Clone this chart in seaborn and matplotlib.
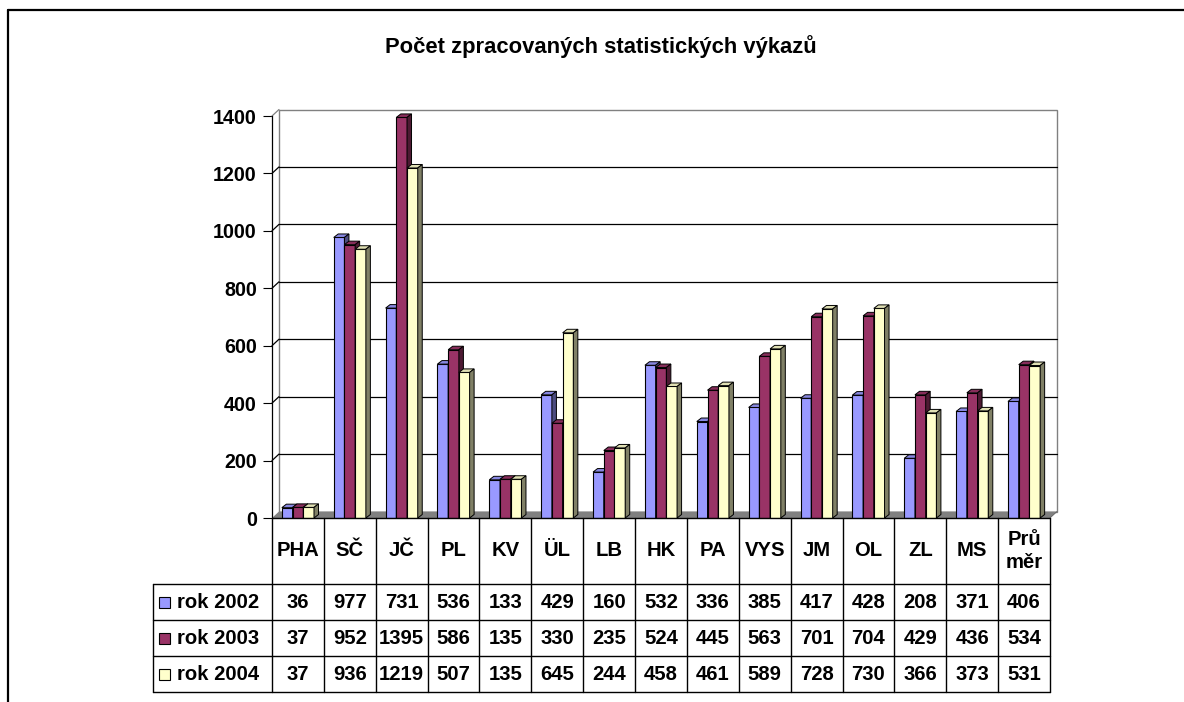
import numpy as np
import pandas as pd
import matplotlib
matplotlib.use("Agg")
import matplotlib.pyplot as plt
import seaborn as sns
from matplotlib.patches import Polygon, Rectangle
from matplotlib.lines import Line2D
from matplotlib.transforms import IdentityTransform
import matplotlib.colors as mcolors

# ---------------- data ----------------
categories = ["PHA", "SČ", "JČ", "PL", "KV", "ÜL", "LB", "HK", "PA", "VYS",
              "JM", "OL", "ZL", "MS", "Průměr"]
table_headers = ["PHA", "SČ", "JČ", "PL", "KV", "ÜL", "LB", "HK", "PA", "VYS",
                 "JM", "OL", "ZL", "MS", "Prů\nměr"]
series_names = ["rok 2002", "rok 2003", "rok 2004"]
rok_2002 = [36, 977, 731, 536, 133, 429, 160, 532, 336, 385, 417, 428, 208, 371, 406]
rok_2003 = [37, 952, 1395, 586, 135, 330, 235, 524, 445, 563, 701, 704, 429, 436, 534]
rok_2004 = [37, 936, 1219, 507, 135, 645, 244, 458, 461, 589, 728, 730, 366, 373, 531]
series_colors = ["#9999FF", "#993366", "#FFFFCC"]
y_ticks = [0, 200, 400, 600, 800, 1000, 1200, 1400]
chart_title = "Počet zpracovaných statistických výkazů"

# ---------------- setup ----------------
W, H, DPI = 1184, 702, 100
sns.set_theme(style="white")
plt.rcParams["font.family"] = ["Liberation Sans", "DejaVu Sans"]
plt.rcParams["font.weight"] = "bold"
plt.rcParams["text.color"] = "black"
plt.rcParams["ytick.color"] = "black"
plt.rcParams["ytick.labelcolor"] = "black"

fig = plt.figure(figsize=(W / DPI, H / DPI), dpi=DPI)
fig.patch.set_facecolor("white")
T = IdentityTransform()

def Y(y_img):
    return H - y_img

ax = fig.add_axes([272 / W, (H - 518) / H, (1050 - 272) / W, (518 - 116) / H])

values = rok_2002 + rok_2003 + rok_2004
df = pd.DataFrame({
    "kraj": categories * 3,
    "rok": np.repeat(series_names, len(categories)),
    "pocet": values,
})
sns.barplot(data=df, x="kraj", y="pocet", hue="rok", order=categories,
            hue_order=series_names, palette=series_colors, width=0.62,
            saturation=1, edgecolor="black", linewidth=0.8, legend=False,
            ax=ax)

ax.set_xlim(-0.5, len(categories) - 0.5)
ax.set_ylim(0, 1400)
ax.set_xlabel("")
ax.set_ylabel("")
ax.set_xticks([])
ax.set_yticks(y_ticks)
ax.set_yticklabels([str(v) for v in y_ticks])
ax.tick_params(axis="y", left=True, direction="out", length=6.5, width=0.8,
               color="black", labelcolor="black", pad=4.5, labelsize=14.2)
for lab in ax.get_yticklabels():
    lab.set_fontweight("bold")
for s in ["top", "right", "bottom"]:
    ax.spines[s].set_visible(False)
ax.spines["left"].set_color("black")
ax.spines["left"].set_linewidth(0.9)
ax.patch.set_visible(False)

def add_poly(pts, fc, ec="none", lw=0.0, z=1):
    ax.add_patch(Polygon(pts, closed=True, facecolor=fc, edgecolor=ec,
                         linewidth=lw, transform=T, clip_on=False, zorder=z))

def add_line(xs, ys, color="black", lw=0.8, z=2):
    ax.add_line(Line2D(xs, ys, color=color, linewidth=lw, transform=T,
                       clip_on=False, zorder=z))

# ---------------- 3D walls ----------------
wdx, wdy = 7.0, 6.5
x0, y0 = ax.transData.transform((-0.5, 0))
x1, y1 = ax.transData.transform((len(categories) - 0.5, 1400))
add_poly([(x0 + wdx, y0 + wdy), (x1 + wdx, y0 + wdy), (x1 + wdx, y1 + wdy),
          (x0 + wdx, y1 + wdy)], "white", "#808080", 1.0, z=0.5)
for v in y_ticks[1:]:
    _, yv = ax.transData.transform((-0.5, v))
    col = "#808080" if v == y_ticks[-1] else "black"
    if v != y_ticks[-1]:
        add_line([x0 + wdx, x1 + wdx], [yv + wdy, yv + wdy], col, 0.9, 1)
    add_line([x0, x0 + wdx], [yv, yv + wdy], col, 0.9, 1)
add_poly([(x0, y0), (x1, y0), (x1 + wdx, y0 + wdy), (x0 + wdx, y0 + wdy)],
         "#808080", "none", 0, z=2)
add_line([x1, x1 + wdx], [y0, y0 + wdy], "#606060", 0.6, 2.1)

# ---------------- 3D bar faces ----------------
bdx, bdy = 4.5, 3.5
def shade(c, f):
    r, g, b = mcolors.to_rgb(c)
    return (r * f, g * f, b * f)

for h, cont in enumerate(ax.containers):
    for bar in cont:
        bar.set_zorder(10 + 2 * h)
        bx, bw, bh = bar.get_x(), bar.get_width(), bar.get_height()
        xl, yb = ax.transData.transform((bx, 0))
        xr, yt = ax.transData.transform((bx + bw, bh))
        fc = series_colors[h]
        add_poly([(xl, yt), (xr, yt), (xr + bdx, yt + bdy), (xl + bdx, yt + bdy)],
                 shade(fc, 0.88), "black", 0.7, z=11 + 2 * h)
        add_poly([(xr, yb), (xr + bdx, yb + bdy), (xr + bdx, yt + bdy), (xr, yt)],
                 shade(fc, 0.5), "black", 0.7, z=11 + 2 * h)

# ---------------- data table ----------------
edges = [ax.transData.transform((i - 0.5, 0))[0] for i in range(len(categories) + 1)]
centers = [ax.transData.transform((i, 0))[0] for i in range(len(categories))]
leg_left = 153
row_lines = [518, 584, 620, 656, 692]

def fig_line(xs, ys, lw=1.0, color="black"):
    fig.add_artist(Line2D(xs, ys, color=color, linewidth=lw, transform=T))

fig_line([edges[0], edges[-1]], [Y(518), Y(518)], 1.0)
for yl in row_lines[1:]:
    fig_line([leg_left, edges[-1]], [Y(yl), Y(yl)], 1.0)
fig_line([leg_left, leg_left], [Y(584), Y(692)], 1.0)
for xe in edges:
    fig_line([xe, xe], [Y(518), Y(692)], 1.0)

fs_tab = 14.6
for i, lab in enumerate(table_headers):
    fig.text(centers[i] / W, Y(551) / H, lab, ha="center", va="center",
             fontsize=fs_tab, fontweight="bold", linespacing=1.25, color="black")

series_values = [rok_2002, rok_2003, rok_2004]
row_centers = [602, 638, 674]
for r, vals in enumerate(series_values):
    yc = row_centers[r]
    for i, v in enumerate(vals):
        fig.text(centers[i] / W, Y(yc) / H, str(v), ha="center", va="center",
                 fontsize=fs_tab, fontweight="bold", color="black")
    fig.add_artist(Rectangle((159, Y(yc) - 5.5), 11, 11, facecolor=series_colors[r],
                             edgecolor="black", linewidth=0.8, transform=T))
    fig.text(177 / W, Y(yc) / H, series_names[r], ha="left", va="center",
             fontsize=fs_tab, fontweight="bold", color="black")

# ---------------- title and frame ----------------
fig.text(601 / W, Y(47) / H, chart_title, ha="center", va="center",
         fontsize=15.8, fontweight="bold", color="black")
fig_line([8, W], [Y(10), Y(10)], 1.6)
fig_line([8, 8], [Y(10), 0], 1.6)

fig.savefig("out.png", dpi=DPI, facecolor="white")
